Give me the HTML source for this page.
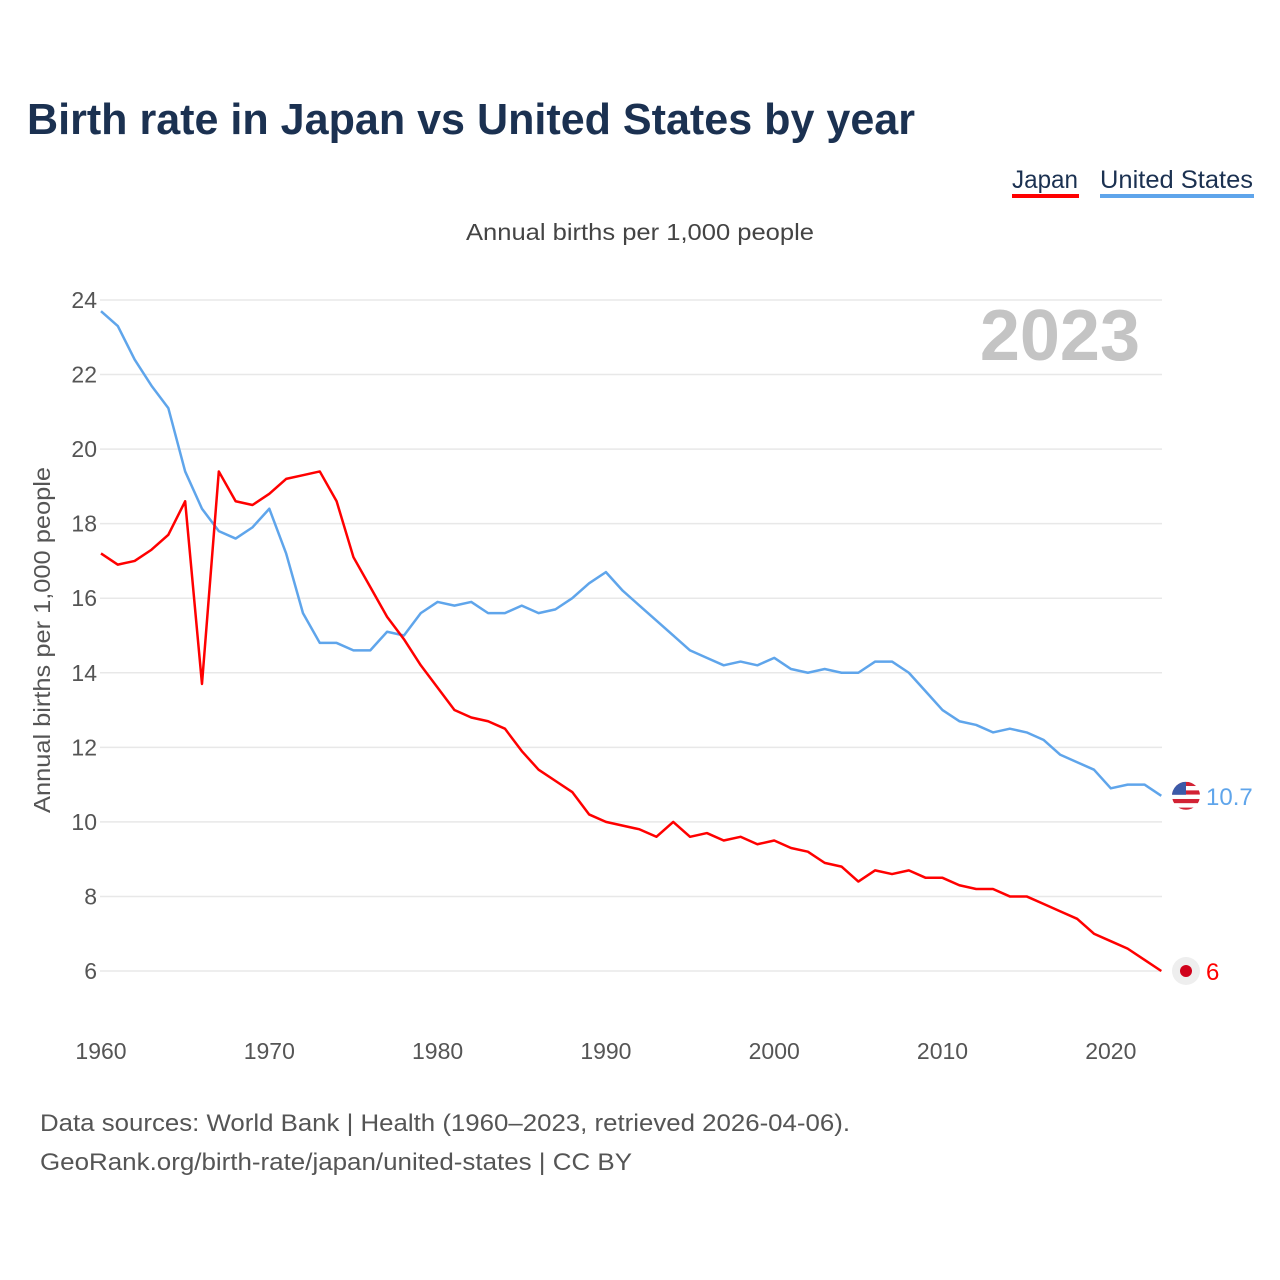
<!DOCTYPE html>
<html><head><meta charset="utf-8"><style>
body{margin:0;background:#fff;font-family:"Liberation Sans",sans-serif}
svg{display:block}
</style></head><body>
<svg id="chart" width="1280" height="1280" viewBox="0 0 1280 1280" xmlns="http://www.w3.org/2000/svg">
<text x="27" y="134" font-size="44" font-weight="bold" fill="#1b3151" textLength="888" lengthAdjust="spacingAndGlyphs">Birth rate in Japan vs United States by year</text>
<g>
<g><text x="1012" y="188" font-size="25" fill="#1b3151" textLength="66" lengthAdjust="spacingAndGlyphs">Japan</text><rect x="1012" y="194" width="67" height="4" fill="#ff0000"/></g>
<g><text x="1100" y="188" font-size="25" fill="#1b3151" textLength="153" lengthAdjust="spacingAndGlyphs">United States</text><rect x="1100" y="194" width="154" height="4" fill="#5fa5eb"/></g>
</g>
<text x="640" y="240" text-anchor="middle" font-size="23" fill="#444" textLength="348" lengthAdjust="spacingAndGlyphs">Annual births per 1,000 people</text>
<text x="1140" y="360" text-anchor="end" font-size="72" font-weight="bold" fill="#c4c4c4">2023</text>
<text transform="translate(50,640) rotate(-90)" text-anchor="middle" font-size="23" fill="#555" textLength="346" lengthAdjust="spacingAndGlyphs">Annual births per 1,000 people</text>
<g id="grid"></g><g id="xt"></g><g id="lines"></g><g id="ends"></g>
<text x="40" y="1131" font-size="24" fill="#555" textLength="810" lengthAdjust="spacingAndGlyphs">Data sources: World Bank | Health (1960–2023, retrieved 2026-04-06).</text>
<text x="40" y="1170" font-size="24" fill="#555" textLength="592" lengthAdjust="spacingAndGlyphs">GeoRank.org/birth-rate/japan/united-states | CC BY</text>
</svg>
<script>
const years=[];for(let y=1960;y<=2023;y++)years.push(y);
const japan=[17.2,16.9,17.0,17.3,17.7,18.6,13.7,19.4,18.6,18.5,18.8,19.2,19.3,19.4,18.6,17.1,16.3,15.5,14.9,14.2,13.6,13.0,12.8,12.7,12.5,11.9,11.4,11.1,10.8,10.2,10.0,9.9,9.8,9.6,10.0,9.6,9.7,9.5,9.6,9.4,9.5,9.3,9.2,8.9,8.8,8.4,8.7,8.6,8.7,8.5,8.5,8.3,8.2,8.2,8.0,8.0,7.8,7.6,7.4,7.0,6.8,6.6,6.3,6.0];
const usa=[23.7,23.3,22.4,21.7,21.1,19.4,18.4,17.8,17.6,17.9,18.4,17.2,15.6,14.8,14.8,14.6,14.6,15.1,15.0,15.6,15.9,15.8,15.9,15.6,15.6,15.8,15.6,15.7,16.0,16.4,16.7,16.2,15.8,15.4,15.0,14.6,14.4,14.2,14.3,14.2,14.4,14.1,14.0,14.1,14.0,14.0,14.3,14.3,14.0,13.5,13.0,12.7,12.6,12.4,12.5,12.4,12.2,11.8,11.6,11.4,10.9,11.0,11.0,10.7];
const yTicks=[6,8,10,12,14,16,18,20,22,24];
const xTicks=[1960,1970,1980,1990,2000,2010,2020];
const NS="http://www.w3.org/2000/svg";
const X=y=>101+(y-1960)*16.83;
const Y=v=>971-(v-6)*37.28;
function mk(t,a,p){const e=document.createElementNS(NS,t);for(const k in a)e.setAttribute(k,a[k]);p.appendChild(e);return e;}
const g=document.getElementById('grid');
yTicks.forEach(v=>{
 const l=mk('line',{x1:100,x2:1162,y1:Y(v),y2:Y(v),stroke:'#e8e8e8','stroke-width':1.5},g);
 
 
 const t=mk('text',{x:97,y:Y(v)+8,'text-anchor':'end','font-size':23,fill:'#555'},g);t.textContent=v;
 
 
});
const xt=document.getElementById('xt');
xTicks.forEach(v=>{
 const t=mk('text',{x:X(v),y:1059,'text-anchor':'middle','font-size':23,fill:'#555'},xt);t.textContent=v;
 
 
});
const L=document.getElementById('lines');
function line(d,c,n){
 const p=mk('polyline',{points:d.map((v,i)=>X(years[i])+','+Y(v)).join(' '),fill:'none',stroke:c,'stroke-width':2.5,'stroke-linejoin':'round'},L);
 
 
}
line(usa,'#5fa5eb','line-united-states');
line(japan,'#ff0000','line-japan');
const E=document.getElementById('ends');
const uy=Y(usa[usa.length-1]), jy=Y(japan[japan.length-1]);
const uf=mk('g',{},E);


const cp=mk('clipPath',{id:'cp'},uf);
mk('circle',{cx:1186,cy:uy,r:14},cp);
const fg=mk('g',{'clip-path':'url(#cp)'},uf);
for(let i=0;i<7;i++)mk('rect',{x:1170,y:uy-14+i*4.3,width:32,height:4.3,fill:i%2?'#fff':'#d22234'},fg);
mk('rect',{x:1170,y:uy-14,width:16,height:13,fill:'#3c5aa8'},fg);
const ut=mk('text',{x:1206,y:uy+9,'font-size':24,fill:'#5fa5eb'},E);ut.textContent=usa[usa.length-1];


const jf=mk('g',{},E);


mk('circle',{cx:1186,cy:jy,r:14,fill:'#eeeeee'},jf);
mk('circle',{cx:1186,cy:jy,r:6,fill:'#d0021b'},jf);
const jt=mk('text',{x:1206,y:jy+9,'font-size':24,fill:'#ff0000'},E);jt.textContent=japan[japan.length-1];


</script>
</body></html>
